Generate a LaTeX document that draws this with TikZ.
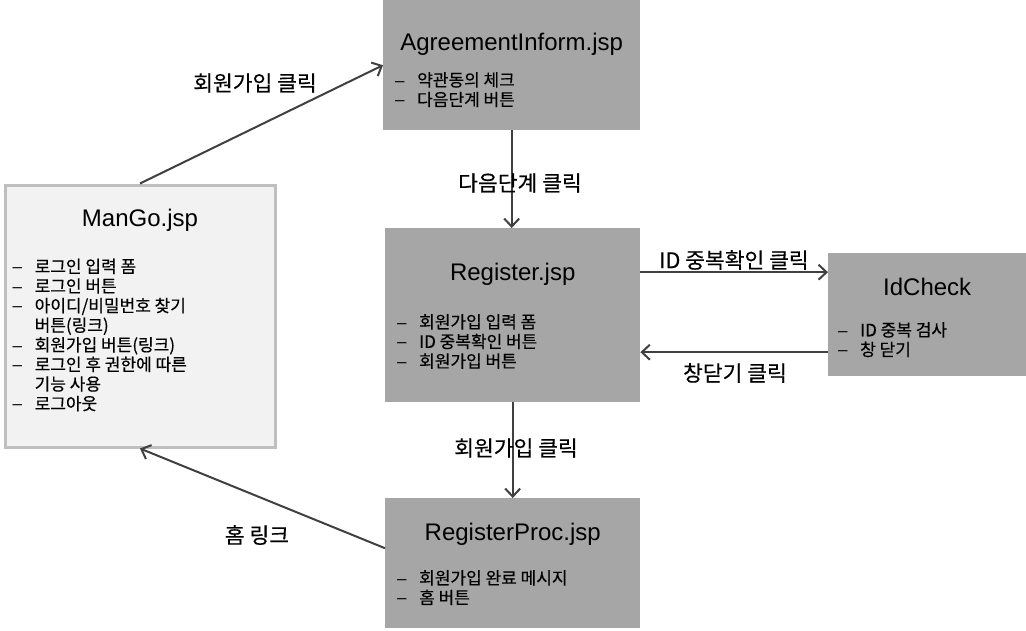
\documentclass[tikz,border=0pt]{standalone}
\usepackage{fontspec}
\setmainfont{Liberation Sans}
\newfontfamily\krfont[FakeBold=0.4]{Noto Sans CJK KR}
\usetikzlibrary{arrows.meta, positioning, calc}
\definecolor{pagegray}{HTML}{A6A6A6}
\definecolor{maingray}{HTML}{F2F2F2}
\definecolor{mainedge}{HTML}{BFBFBF}
\definecolor{flowdark}{HTML}{404040}
\tikzset{
  % page boxes
  pagebox/.style={rectangle, fill=pagegray, anchor=north west, inner sep=0pt},
  mainbox/.style={rectangle, fill=maingray, draw=mainedge, line width=3pt,
    anchor=north west, inner sep=0pt},
  % texts in the boxes
  pagetitle/.style={font=\fontsize{24}{28}\selectfont, anchor=base, inner sep=0pt},
  itemlist/.style={font=\krfont\fontsize{17}{19.6}\selectfont, align=left,
    anchor=north west, inner sep=0pt},
  % arrows
  flow/.style={-{Straight Barb[length=8pt, width=15pt]}, line width=2pt, draw=flowdark},
  flowlabel/.style={font=\krfont\fontsize{21.5}{24}\selectfont, inner sep=0pt},
}
\newcommand{\itm}[1]{\makebox[22pt][l]{\rmfamily –}#1}
\newcommand{\cnt}[1]{\hspace*{22pt}#1}

\begin{document}
\begin{tikzpicture}[x=1pt, y=-1pt]
  \useasboundingbox (0,0) rectangle (1026,630);

  % Boxes
  \node[mainbox, minimum width=270pt, minimum height=262pt] (man) at (3.5,183.5) {};
  \node[pagebox, minimum width=257pt, minimum height=130pt] (agree) at (383,0) {};
  \node[pagebox, minimum width=255pt, minimum height=174pt] (reg) at (385,228) {};
  \node[pagebox, minimum width=198pt, minimum height=123pt] (idc) at (828,253) {};
  \node[pagebox, minimum width=255pt, minimum height=130pt] (proc) at (385,498) {};

  % ManGo
  \node[pagetitle] (mantitle) at ($(man.north)+(0,43)$) {ManGo.jsp};
  \node[itemlist, below right=75pt and 9pt of man.north west] (manitems) {%
    \itm{로그인 입력 폼}\\ \itm{로그인 버튼}\\ \itm{아이디/비밀번호 찾기}\\
    \cnt{버튼(링크)}\\ \itm{회원가입 버튼(링크)}\\ \itm{로그인 후 권한에 따른}\\
    \cnt{기능 사용}\\ \itm{로그아웃}};

  % AgreementInform
  \node[pagetitle] (agreetitle) at ($(agree.north)+(0,50)$) {AgreementInform.jsp};
  \node[itemlist, below right=72pt and 12pt of agree.north west] (agreeitems) {%
    \itm{약관동의 체크}\\ \itm{다음단계 버튼}};

  % Register
  \node[pagetitle] (regtitle) at ($(reg.north)+(0,52)$) {Register.jsp};
  \node[itemlist, below right=86pt and 12pt of reg.north west] (regitems) {%
    \itm{회원가입 입력 폼}\\ \itm{ID 중복확인 버튼}\\ \itm{회원가입 버튼}};

  % IdCheck
  \node[pagetitle] (idctitle) at ($(idc.north)+(0,42)$) {IdCheck};
  \node[itemlist, below right=69pt and 10pt of idc.north west] (idcitems) {%
    \itm{ID 중복 검사}\\ \itm{창 닫기}};

  % RegisterProc
  \node[pagetitle] (proctitle) at ($(proc.north)+(0,42)$) {RegisterProc.jsp};
  \node[itemlist, below right=72pt and 12pt of proc.north west] (procitems) {%
    \itm{회원가입 완료 메시지}\\ \itm{홈 버튼}};

  % Arrows
  \draw[flow] (man.north) -- (agree.west);
  \draw[flow] (agree.south) -- (agree.south |- reg.north);
  \draw[flow] ([yshift=43pt]reg.east) -- ([yshift=43pt]reg.east -| idc.west);
  \draw[flow] ([yshift=-37.5pt]idc.west) -- ([yshift=-37.5pt]idc.west -| reg.east);
  \draw[flow] (reg.south) -- (reg.south |- proc.north);
  \draw[flow] ([yshift=15pt]proc.west) -- (man.south);

  % Labels on arrows
  \node[flowlabel] (lbljoin) at (255,83) {회원가입 클릭};
  \node[flowlabel] (lblnext) at (520,183) {다음단계 클릭};
  \node[flowlabel] (lblcheck) at (734,260) {ID 중복확인 클릭};
  \node[flowlabel] (lblclose) at (735,373) {창닫기 클릭};
  \node[flowlabel] (lblsubmit) at (516,448) {회원가입 클릭};
  \node[flowlabel] (lblhome) at (257,535) {홈 링크};
\end{tikzpicture}
\end{document}
